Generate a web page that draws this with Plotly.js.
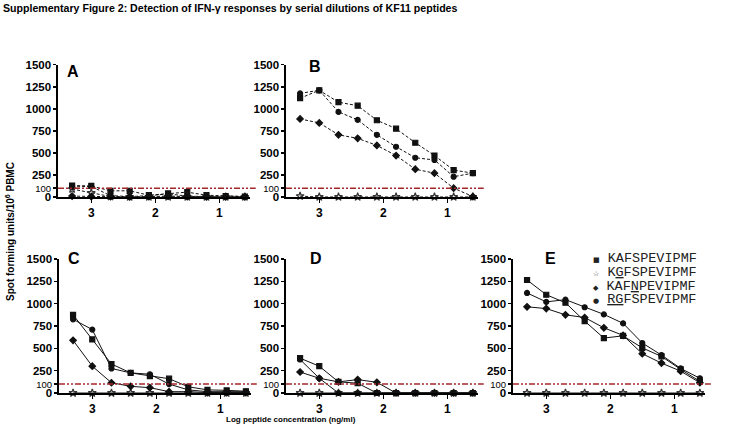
<!DOCTYPE html>
<html>
<head>
<meta charset="utf-8">
<script src="https://cdn.plot.ly/plotly-3.0.1.min.js"></script>
<style>html,body{margin:0;padding:0;background:#fff;}#chart{width:740px;height:430px;}</style>
</head>
<body>
<div id="chart"></div>
<script>
// ---- data ----
const logConc = [3.3, 3.0, 2.7, 2.4, 2.1, 1.8, 1.5, 1.2, 0.9, 0.6];
const peptideNames = ['KAFSPEVIPMF', 'KGFSPEVIPMF', 'KAFNPEVIPMF', 'RGFSPEVIPMF'];
const peptideLabels = ['KAFSPEVIPMF', 'K<u>G</u>FSPEVIPMF', 'KAF<u>N</u>PEVIPMF', '<u>RG</u>FSPEVIPMF'];
const panelLetters = ['A', 'B', 'C', 'D', 'E'];

const aKAFS = [130, 125, 70, 70, 20, 40, 55, 20, 10, 5];
const aKGFS = [90, 45, 5, 0, 0, 0, 0, 0, 0, 0];
const aKAFN = [115, 120, 15, 5, 15, 35, 10, 5, 10, 5];
const aRGFS = [10, 5, 5, 0, 5, 10, 5, 0, 0, 0];

const bKAFS = [1120, 1210, 1075, 1035, 870, 775, 615, 470, 305, 270];
const bKGFS = [10, 0, 0, 0, 0, 0, 0, 0, 0, 0];
const bKAFN = [1175, 1210, 965, 875, 705, 570, 445, 420, 230, 270];
const bRGFS = [885, 840, 705, 665, 585, 470, 315, 270, 100, 5];

const cKAFS = [875, 600, 325, 225, 190, 160, 70, 35, 30, 20];
const cKGFS = [0, 0, 0, 0, 0, 0, 0, 0, 0, 0];
const cKAFN = [825, 710, 275, 225, 210, 100, 35, 15, 15, 15];
const cRGFS = [590, 300, 115, 75, 60, 15, 15, 5, 5, 5];

const dKAFS = [390, 300, 125, 110, 0, 0, 0, 0, 0, 0];
const dKGFS = [0, 0, 0, 0, 0, 0, 0, 0, 0, 0];
const dKAFN = [375, 165, 0, 0, 0, 0, 0, 0, 0, 0];
const dRGFS = [235, 165, 125, 150, 120, 0, 0, 0, 0, 0];

const eKAFS = [1265, 1100, 1010, 805, 615, 640, 505, 410, 265, 130];
const eKGFS = [0, 0, 0, 0, 0, 0, 0, 0, 0, 0];
const eKAFN = [1120, 1020, 1045, 960, 880, 780, 560, 425, 275, 165];
const eRGFS = [965, 945, 875, 845, 730, 645, 440, 335, 245, 115];

const threshold = 100;

const xTickVals = [3, 2, 1];
const xTickText = ['<b>3</b>', '<b>2</b>', '<b>1</b>'];
const yTickVals = [0, 100, 250, 500, 750, 1000, 1250, 1500];
const yTickText = ['<b>0</b>', '<span style="font-size:9.5px">100</span>', '<b>250</b>', '<b>500</b>', '<b>750</b>', '<b>1000</b>', '<b>1250</b>', '<b>1500</b>'];

// ---- styling ----
const SANS = 'Arial, "Liberation Sans", sans-serif';
const MONO = '"Liberation Mono", "Courier New", monospace';
const symbols = ['square', 'star-open', 'circle', 'diamond'];
const glyphs = ['■', '☆', '◆', '●'];

const panels = [
  {series: [aKAFS, aKGFS, aKAFN, aRGFS], dash: '3px,2px', xd: [0.0784, 0.3378], yd: [0.5419, 0.8495], lx: 0.078, ly: 0.947},
  {series: [bKAFS, bKGFS, bKAFN, bRGFS], dash: '3px,2px', xd: [0.3865, 0.6459], yd: [0.5419, 0.8495], lx: 0.151, ly: 0.985},
  {series: [cKAFS, cKGFS, cKAFN, cRGFS], dash: 'solid', xd: [0.0797, 0.3392], yd: [0.0860, 0.3977], lx: 0.080, ly: 1.004},
  {series: [dKAFS, dKGFS, dKAFN, dRGFS], dash: 'solid', xd: [0.3865, 0.6459], yd: [0.0860, 0.3977], lx: 0.156, ly: 1.007},
  {series: [eKAFS, eKGFS, eKAFN, eRGFS], dash: 'solid', xd: [0.6932, 0.9527], yd: [0.0860, 0.3977], lx: 0.198, ly: 1.007}
];

const traces = [];
const layout = {
  width: 740, height: 430,
  margin: {l: 0, r: 0, t: 0, b: 0},
  paper_bgcolor: '#fff', plot_bgcolor: 'rgba(0,0,0,0)',
  showlegend: false,
  font: {family: SANS, color: '#000'},
  title: {
    text: '<b>Supplementary Figure 2: Detection of IFN-γ responses by serial dilutions of KF11 peptides</b>',
    x: 0.004, xanchor: 'left', xref: 'paper', y: 1 - 8 / 430, yref: 'container', yanchor: 'middle',
    font: {family: SANS, size: 10.6, color: '#000'}
  },
  shapes: [], annotations: []
};

panels.forEach((p, i) => {
  const n = i + 1;
  const xs = n === 1 ? 'x' : 'x' + n;
  const ys = n === 1 ? 'y' : 'y' + n;
  p.series.forEach((vals, k) => {
    traces.push({
      type: 'scatter', mode: 'lines+markers',
      x: logConc, y: vals, xaxis: xs, yaxis: ys,
      name: peptideNames[k], cliponaxis: false,
      line: {color: '#111', width: 1, dash: p.dash},
      marker: {symbol: symbols[k], size: k === 1 ? 6 : 5, color: k === 1 ? '#333' : '#111', line: {color: k === 1 ? '#333' : '#111', width: 1.2}}
    });
  });
  layout['xaxis' + (n === 1 ? '' : n)] = {
    domain: p.xd, anchor: ys, range: [3.52, 0.52],
    showgrid: false, zeroline: false, showline: true, linecolor: '#000', linewidth: 1.6,
    ticks: 'outside', ticklen: 4, tickwidth: 1.5, tickcolor: '#000',
    tickmode: 'array', tickvals: xTickVals, ticktext: xTickText,
    tickfont: {family: SANS, size: 12, color: '#000'}
  };
  layout['yaxis' + (n === 1 ? '' : n)] = {
    domain: p.yd, anchor: xs, range: [0, 1500],
    showgrid: false, zeroline: false, showline: true, linecolor: '#000', linewidth: 1.6,
    ticks: 'outside', ticklen: 3, tickwidth: 1.5, tickcolor: '#000',
    tickmode: 'array', tickvals: yTickVals, ticktext: yTickText,
    tickfont: {family: SANS, size: 11.5, color: '#000'}
  };
  layout.shapes.push({
    type: 'line', xref: xs + ' domain', yref: ys, x0: 0, x1: 1.03, y0: threshold, y1: threshold,
    line: {color: '#a3272b', width: 1.5, dash: '6px,2px,2px,2px,2px,2px'}
  });
  layout.annotations.push({
    text: '<b>' + panelLetters[i] + '</b>', xref: xs + ' domain', yref: ys + ' domain',
    x: p.lx, y: p.ly, xanchor: 'center', yanchor: 'middle', showarrow: false,
    font: {family: SANS, size: 16, color: '#000'}
  });
});

// legend (drawn in panel E)
const legendY = [1.0, 0.899, 0.798, 0.697];
peptideLabels.forEach((lab, k) => {
  layout.annotations.push({
    text: '<span style="font-family:DejaVu Sans;font-size:7px">' + glyphs[k] + '</span> ' + lab,
    xref: 'x5 domain', yref: 'y5 domain', x: 0.405, y: legendY[k],
    xanchor: 'left', yanchor: 'middle', showarrow: false,
    font: {family: MONO, size: 13.5, color: '#222'}
  });
});

// axis titles
layout.annotations.push({
  text: '<b>Spot forming units/10<sup>6</sup> PBMC</b>', xref: 'paper', yref: 'paper',
  x: 10 / 740, y: 1 - 232 / 430, textangle: -90, xanchor: 'center', yanchor: 'middle', showarrow: false,
  font: {family: SANS, size: 10, color: '#000'}
});
layout.annotations.push({
  text: '<b>Log peptide concentration (ng/ml)</b>', xref: 'paper', yref: 'paper',
  x: 291 / 740, y: 1 - 419 / 430, xanchor: 'center', yanchor: 'middle', showarrow: false,
  font: {family: SANS, size: 8, color: '#000'}
});

Plotly.newPlot('chart', traces, layout, {staticPlot: true, displayModeBar: false});
</script>
</body>
</html>
